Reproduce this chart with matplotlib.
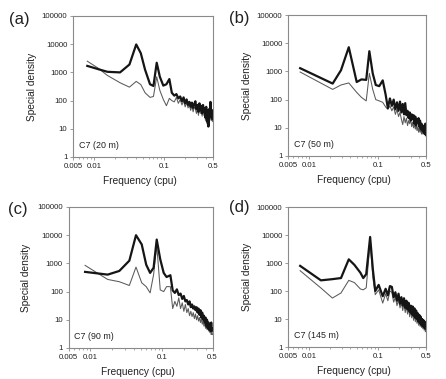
import numpy as np
import matplotlib
matplotlib.use("Agg")
import matplotlib.pyplot as plt
from matplotlib.ticker import FixedLocator, NullFormatter

plt.rcParams["font.family"] = ["Liberation Sans", "DejaVu Sans"]

# shared high-frequency grid (cpu)
HF = [0.14, 0.15, 0.16, 0.17, 0.18, 0.19, 0.20, 0.21, 0.22, 0.23, 0.24, 0.25,
      0.26, 0.27, 0.28, 0.29, 0.30, 0.31, 0.32, 0.33, 0.34, 0.35, 0.36, 0.37,
      0.38, 0.39, 0.40, 0.41, 0.42, 0.43, 0.44, 0.45, 0.46, 0.47, 0.48, 0.49, 0.50]

# (a) C7 20 m
f_a = [0.008, 0.0115, 0.0155, 0.0235, 0.032, 0.04, 0.0465, 0.0535, 0.063, 0.0705,
       0.0785, 0.087, 0.0975, 0.108, 0.119, 0.129]
thick_a = [1700, 1300, 1050, 1000, 1900, 9800, 4800, 1250, 380, 330, 2200, 700, 340, 380, 580, 190,
           150, 170, 120, 140, 95, 130, 80, 110, 70, 90, 60, 85, 55, 75, 95, 50, 70, 40, 80, 45,
           65, 35, 70, 40, 55, 25, 60, 18, 45, 12, 50, 30, 90, 25, 40, 22, 45]
thin_a = [2500, 1400, 780, 430, 300, 480, 370, 190, 130, 140, 700, 230, 110, 66, 120, 100,
          90, 130, 80, 110, 70, 100, 60, 85, 55, 70, 45, 65, 40, 60, 50, 35, 55, 30, 60, 35,
          50, 28, 55, 30, 45, 20, 50, 15, 40, 14, 40, 25, 60, 20, 35, 18, 30]

# (b) C7 50 m
f_b = [0.0075, 0.0222, 0.0293, 0.038, 0.0495, 0.058, 0.068, 0.0755, 0.0845, 0.0935,
       0.105, 0.118, 0.13]
thick_b = [1300, 370, 1100, 7200, 420, 520, 500, 5200, 850, 330, 300, 480, 150,
           50, 110, 60, 100, 45, 80, 40, 85, 35, 70, 30, 75, 28, 40, 22, 35, 18, 30, 20, 28,
           14, 25, 12, 20, 15, 22, 11, 18, 9, 14, 8, 12, 7, 11, 6, 14, 5.5]
thin_b = [950, 230, 330, 390, 180, 120, 90, 850, 230, 100, 90, 80, 55,
          45, 60, 40, 55, 30, 45, 25, 35, 20, 13, 25, 15, 22, 12, 18, 14, 20, 11, 16, 10,
          14, 9, 12, 8, 11, 7, 10, 7, 9, 6, 8, 6, 9, 6, 8, 6, 7]

# (c) C7 90 m
f_c = [0.0085, 0.0175, 0.0254, 0.035, 0.0433, 0.052, 0.06, 0.068, 0.076, 0.084,
       0.094, 0.105, 0.115, 0.13]
thick_c = [500, 400, 540, 1250, 10000, 4700, 900, 460, 700, 7000, 1400, 460, 330, 380,
           110, 90, 120, 75, 85, 55, 70, 45, 50, 35, 45, 28, 35, 25, 30, 22, 28, 18, 25, 15,
           22, 12, 18, 10, 14, 8, 12, 6, 10, 5, 8, 4.5, 7, 4, 8, 4, 5]
thin_c = [850, 270, 224, 165, 740, 205, 150, 90, 400, 4500, 115, 100, 150, 150,
          25, 45, 30, 60, 25, 40, 20, 35, 18, 25, 14, 20, 13, 18, 11, 16, 10, 14, 9, 12,
          8, 11, 7, 9, 6, 8, 5, 7, 4.5, 6, 4, 5, 3.5, 5, 3, 4, 3]

# (d) C7 145 m
f_d = [0.0075, 0.015, 0.022, 0.0293, 0.038, 0.0458, 0.056, 0.0616, 0.068, 0.0775,
       0.085, 0.092, 0.103, 0.118, 0.13]
thick_d = [790, 240, 265, 290, 1350, 860, 450, 290, 400, 8500, 570, 100, 165, 65, 120,
           70, 150, 140, 60, 90, 45, 80, 35, 60, 30, 55, 25, 45, 22, 38, 18, 30, 15, 28, 13,
           24, 11, 20, 10, 16, 8, 14, 7, 12, 6, 10, 5.5, 9, 5, 8, 4.5, 6]
thin_d = [530, 128, 56, 85, 240, 200, 118, 110, 130, 5800, 300, 74, 110, 37, 80,
          45, 100, 90, 40, 60, 30, 50, 25, 40, 20, 35, 17, 30, 15, 26, 12, 22, 11, 19, 9,
          17, 8, 14, 7, 12, 6, 10, 5.5, 9, 5, 8, 4.5, 7, 4, 6, 3.5, 4.5]

PANELS = [
    ("(a)", "C7 (20 m)", f_a, thick_a, thin_a),
    ("(b)", "C7 (50 m)", f_b, thick_b, thin_b),
    ("(c)", "C7 (90 m)", f_c, thick_c, thin_c),
    ("(d)", "C7 (145 m)", f_d, thick_d, thin_d),
]

W, H = 446, 379
# axes boxes in pixels: left, top, right, bottom
BOXES = [(73, 16, 213, 157), (288, 15, 426, 156), (68.5, 207, 212.5, 348), (288, 207, 426, 347)]
LETTER_POS = [(9, 12), (229, 11), (8, 202), (229, 200)]

GRID_LINE = "#8a8a8a"

fig = plt.figure(figsize=(W / 100, H / 100), dpi=100)

for (letter, tag, f_low, thick, thin), box, lp in zip(PANELS, BOXES, LETTER_POS):
    l, t, r, b = box
    ax = fig.add_axes([l / W, 1 - b / H, (r - l) / W, (b - t) / H])
    freq = list(f_low) + HF
    ax.plot(freq, thin, color="#5a5a5a", lw=0.75)
    ax.plot(freq, thick, color="#151515", lw=1.6)
    ax.set_xscale("log")
    ax.set_yscale("log")
    ax.set_xlim(0.005, 0.5)
    ax.set_ylim(1, 100000)

    ax.xaxis.set_major_locator(FixedLocator([0.005, 0.01, 0.1, 0.5]))
    ax.set_xticklabels(["0.005", "0.01", "0.1", "0.5"])
    minors = [0.006, 0.007, 0.008, 0.009, 0.02, 0.03, 0.04, 0.05, 0.06, 0.07, 0.08, 0.09,
              0.2, 0.3, 0.4]
    ax.xaxis.set_minor_locator(FixedLocator(minors))
    ax.xaxis.set_minor_formatter(NullFormatter())
    yt = [1, 10, 100, 1000, 10000, 100000]
    ax.yaxis.set_major_locator(FixedLocator(yt))
    ax.set_yticklabels([str(v) for v in yt])
    ax.yaxis.set_minor_locator(FixedLocator([]))

    for s in ax.spines.values():
        s.set_color(GRID_LINE)
        s.set_linewidth(0.8)
    ax.tick_params(which="major", length=2.5, width=0.6, color=GRID_LINE,
                   labelsize=5.6, pad=1.5, labelcolor="#222222")
    ax.tick_params(which="minor", length=1.5, width=0.5, color=GRID_LINE)

    ax.set_ylabel("Special density", fontsize=7.3, color="#222222")
    ax.yaxis.set_label_coords(-0.26, 0.5)
    ax.set_xlabel("Frequency (cpu)", fontsize=7.3, color="#222222")
    ax.xaxis.set_label_coords(0.48, -0.135)

    ax.text(0.04, 0.05, tag, transform=ax.transAxes, fontsize=6.4, color="#222222",
            ha="left", va="bottom")
    fig.text(lp[0] / W, 1 - lp[1] / H, letter, fontsize=12, color="#222222",
             ha="left", va="top")

fig.savefig("out.png", dpi=100)
